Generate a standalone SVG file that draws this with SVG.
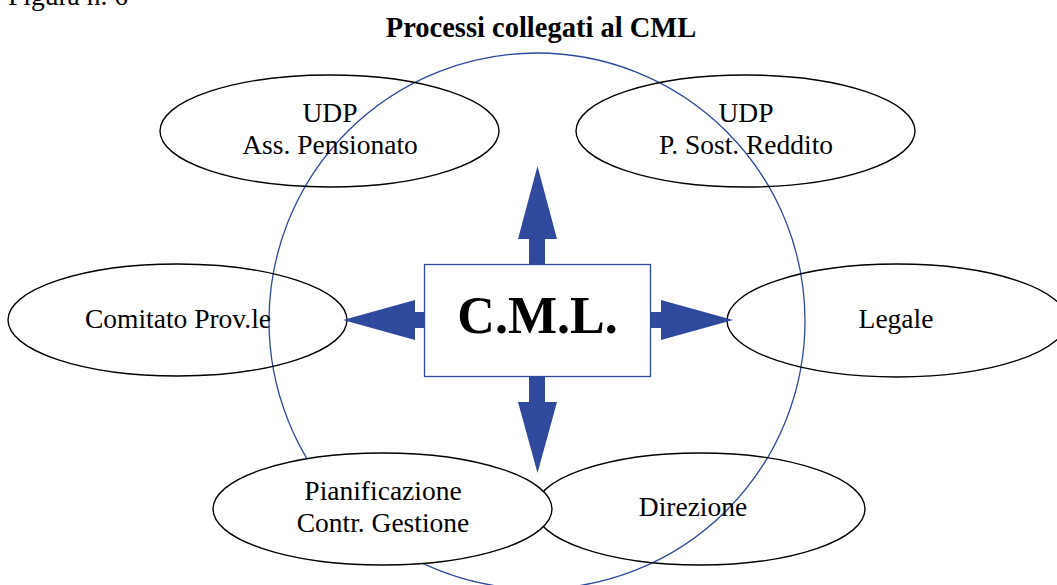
<svg xmlns="http://www.w3.org/2000/svg" width="1057" height="585" viewBox="0 0 1057 585">
<style>
.t{font-family:"Liberation Serif","Times New Roman",serif;font-size:27.5px;fill:#000;text-anchor:middle}
.node ellipse{fill:none;stroke:#000;stroke-width:1.4}
.arr{fill:#2F4A9C;stroke:none}
</style>
<rect width="1057" height="585" fill="#fff"/>
<text x="8" y="5" class="t" style="text-anchor:start">Figura n. 6</text>
<text x="541" y="37" class="t" style="font-weight:bold;font-size:28.5px">Processi collegati al CML</text>
<circle id="cerchio" cx="537" cy="321" r="268" fill="none" stroke="#2F4A9C" stroke-width="1.3"/>
<g id="udp-pensionato" class="node">
<ellipse cx="329.5" cy="131" rx="169.5" ry="56"/>
<text x="330" y="122" class="t">UDP</text>
<text x="330" y="154" class="t">Ass. Pensionato</text>
</g>
<g id="udp-reddito" class="node">
<ellipse cx="745.5" cy="131" rx="169.5" ry="56"/>
<text x="746" y="122" class="t">UDP</text>
<text x="746" y="154" class="t">P. Sost. Reddito</text>
</g>
<g id="comitato" class="node">
<ellipse cx="177.5" cy="320" rx="169.5" ry="56"/>
<text x="178" y="328" class="t">Comitato Prov.le</text>
</g>
<g id="legale" class="node">
<ellipse cx="897" cy="320.5" rx="170" ry="56.5"/>
<text x="896" y="328" class="t">Legale</text>
</g>
<g id="direzione" class="node">
<ellipse cx="700" cy="509" rx="165" ry="56"/>
<text x="693" y="516" class="t">Direzione</text>
</g>
<g id="pianificazione" class="node">
<ellipse cx="382.5" cy="509" rx="169.5" ry="56" style="fill:#fff"/>
<text x="383" y="500" class="t">Pianificazione</text>
<text x="383" y="532" class="t">Contr. Gestione</text>
</g>
<g id="cml" class="node">
<rect x="424.5" y="264.5" width="226" height="112" fill="#fff" stroke="#2F4A9C" stroke-width="1.3"/>
<text x="537.5" y="333" class="t" style="font-weight:bold;font-size:52px">C.M.L.</text>
</g>
<g id="connectors">
<polygon class="arr" points="529,264 529,239 518,239 537.5,166 557,239 545,239 545,264"/>
<polygon class="arr" points="529,377 529,402 518,402 537.5,473 557,402 545,402 545,377"/>
<polygon class="arr" points="424,312 415,312 415,300 343,320 415,340 415,328 424,328"/>
<polygon class="arr" points="651,312 661,312 661,300 733,320 661,340 661,328 651,328"/>
</g>
</svg>
